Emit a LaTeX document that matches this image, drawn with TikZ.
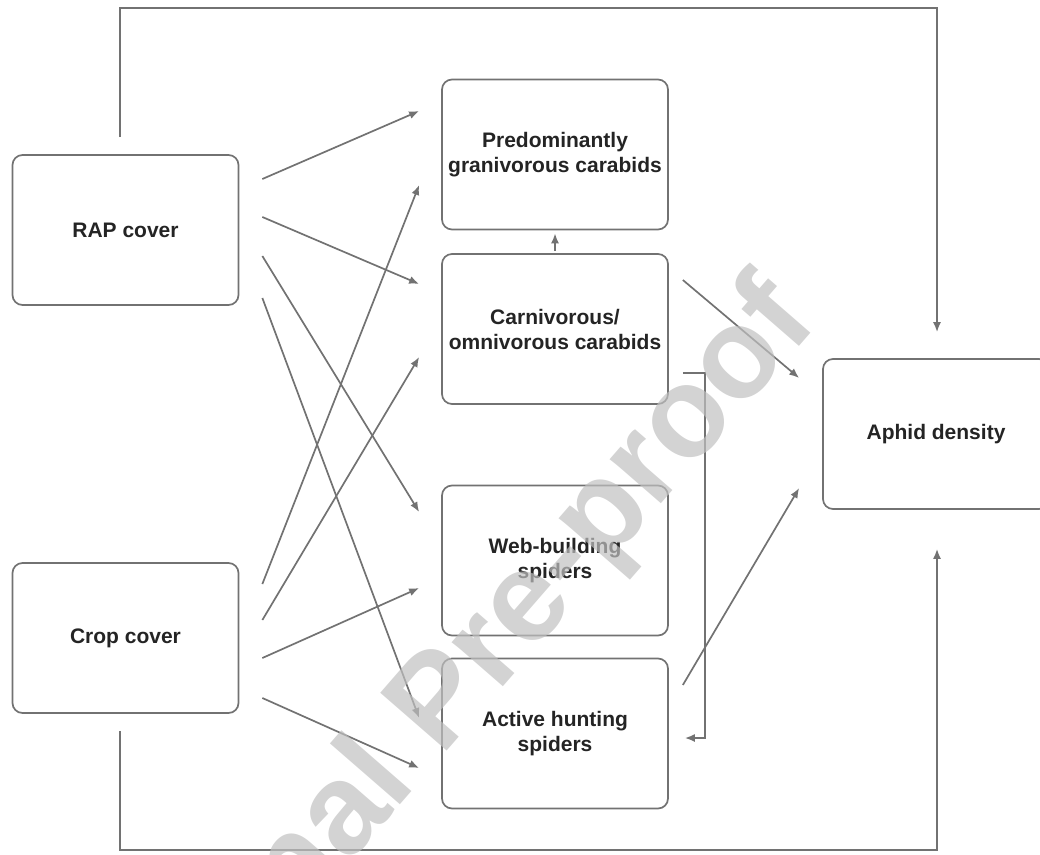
\documentclass[tikz,border=0pt]{standalone}
\usepackage{fontspec}
\setmainfont{Liberation Sans}
\usetikzlibrary{arrows.meta}
\definecolor{linegray}{HTML}{727272}
\definecolor{textgray}{HTML}{242424}
\definecolor{wmgray}{HTML}{C0C0C0}
\begin{document}
\begin{tikzpicture}[x=1pt, y=-1pt,
    box/.style={draw=linegray, line width=1.7pt, rounded corners=10pt, minimum width=226pt, minimum height=150pt,
      inner sep=0pt, align=center, text=textgray, font=\bfseries\fontsize{21}{25}\selectfont},
    arr/.style={draw=linegray, line width=1.7pt, -{Latex[length=10pt,width=8pt]}}]
  \useasboundingbox (0,0) rectangle (1040,854);

  % drivers
  \node[box] (rap) at (125.5,230) {RAP cover};
  \node[box] (crop) at (125.5,638) {Crop cover};

  % predator groups
  \node[box] (gran) at (555,154.5) {Predominantly\\granivorous carabids};
  \node[box] (carn) at (555,329) {Carnivorous/\\omnivorous carabids};
  \node[box] (web) at (555,560.5) {Web-building\\spiders};
  \node[box] (hunt) at (555,733.5) {Active hunting\\spiders};

  % response
  \node[box] (aphid) at (936,434) {Aphid density};

  % RAP cover paths
  \draw[arr] ([shift={(23,-51)}]rap.east) -- ([shift={(-22,-43.5)}]gran.west);
  \draw[arr] ([shift={(23,-13)}]rap.east) -- ([shift={(-22,-45)}]carn.west);
  \draw[arr] ([shift={(23,26)}]rap.east) -- ([shift={(-22,-48.5)}]web.west);
  \draw[arr] ([shift={(23,68)}]rap.east) -- ([shift={(-22,-15.5)}]hunt.west);

  % crop cover paths
  \draw[arr] ([shift={(23,-54)}]crop.east) -- ([shift={(-22,30.5)}]gran.west);
  \draw[arr] ([shift={(23,-18)}]crop.east) -- ([shift={(-22,28)}]carn.west);
  \draw[arr] ([shift={(23,20)}]crop.east) -- ([shift={(-22,27.5)}]web.west);
  \draw[arr] ([shift={(23,60)}]crop.east) -- ([shift={(-22,34.5)}]hunt.west);

  % between predators
  \draw[arr] ([shift={(0,-2)}]carn.north) -- ([shift={(0,3)}]gran.south);
  \draw[arr] ([shift={(14,44)}]carn.east) -- ++(22,0) |- ([shift={(16,4.5)}]hunt.east);

  % predators to aphids
  \draw[arr] ([shift={(14,-49)}]carn.east) -- ([shift={(-23,-56)}]aphid.west);
  \draw[arr] ([shift={(14,-48.5)}]hunt.east) -- ([shift={(-23,54)}]aphid.west);

  % direct paths
  \draw[arr] ([shift={(-5.5,-17)}]rap.north) -- ++(0,-129) -| ([shift={(1,-26)}]aphid.north);
  \draw[arr] ([shift={(-5.5,17)}]crop.south) -- ++(0,119) -| ([shift={(1,39)}]aphid.south);

  % watermark
  \node[rotate=49, anchor=base, text=wmgray, opacity=0.7, font=\bfseries\fontsize{128}{128}\selectfont] (wm) at (467,728) {Journal Pre-proof};
\end{tikzpicture}
\end{document}
